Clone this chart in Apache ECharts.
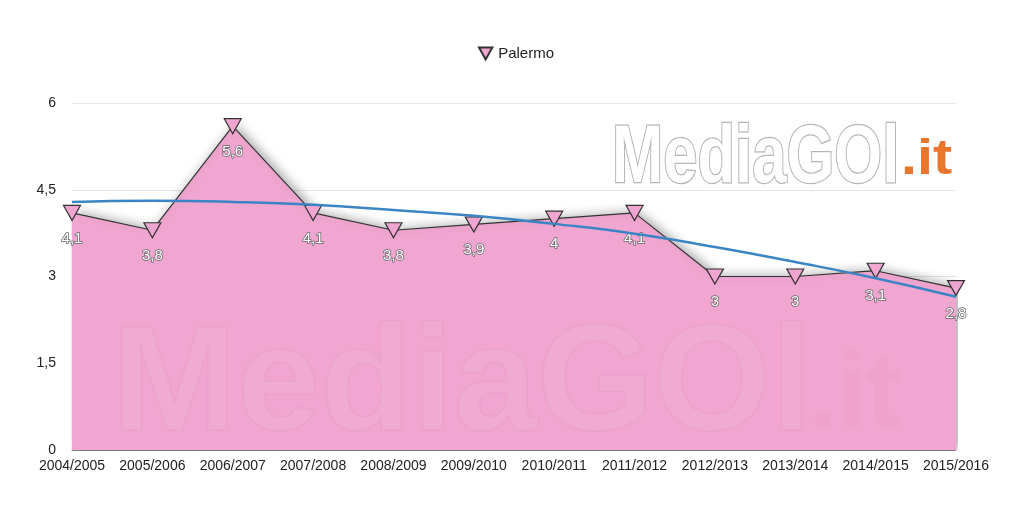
<!DOCTYPE html>
<html><head><meta charset="utf-8">
<script src="https://cdn.jsdelivr.net/npm/echarts@6/dist/echarts.min.js"></script>
<style>html,body{margin:0;padding:0;background:#fff}#c{width:1024px;height:505px}</style>
</head><body><div id="c"></div>
<script>
var categories = ['2004/2005','2005/2006','2006/2007','2007/2008','2008/2009','2009/2010','2010/2011','2011/2012','2012/2013','2013/2014','2014/2015','2015/2016'];
var palermo = [4.1,3.8,5.6,4.1,3.8,3.9,4.0,4.1,3.0,3.0,3.1,2.8];
var trend = [4.29,4.31,4.29,4.24,4.15,4.05,3.91,3.74,3.51,3.25,2.97,2.65];
var yTicks = [0,1.5,3,4.5,6];

var fmt = function(v){ return String(v).replace('.', ','); };
var chart = echarts.init(document.getElementById('c'));
chart.setOption({
  animation:false,
  textStyle:{fontFamily:'Liberation Sans, Arial, sans-serif'},
  legend:{top:41,left:473,itemWidth:15,itemHeight:12,itemGap:6,
    textStyle:{fontSize:15,color:'#222'},
    data:[{name:'Palermo',icon:'path://M0,0 L10,0 L5,9 Z'}]},
  grid:{left:72,right:68,top:103,bottom:55},
  xAxis:{type:'category',data:categories,boundaryGap:false,
    axisLine:{lineStyle:{color:'#888',width:1}},axisTick:{show:false},
    axisLabel:{color:'#222',fontSize:14,margin:9,interval:0}},
  yAxis:{type:'value',min:0,max:6,interval:1.5,
    axisLine:{show:false},axisTick:{show:false},
    splitLine:{lineStyle:{color:'#e6e6e6'}},
    axisLabel:{color:'#222',fontSize:14,margin:16,formatter:function(v){return fmt(v);}}},
  graphic:[
    {type:'text',x:612,y:119,scaleX:0.76,z:5,style:{text:'MediaGOl',font:'bold 81px Liberation Sans, Arial',fill:'#fff',stroke:'#b5b5b5',lineWidth:2.5,shadowBlur:5,shadowColor:'rgba(0,0,0,0.3)',shadowOffsetY:2}},
    {type:'text',x:901,y:135,scaleX:1.15,z:5,style:{text:'.it',font:'bold 50px Liberation Sans, Arial',fill:'#e8762c'}},
    {type:'text',x:112,y:314,z:4,silent:true,style:{text:'MediaGOl',font:'bold 150px Liberation Sans, Arial',fill:'rgba(255,255,255,0.06)',stroke:'rgba(190,100,155,0.07)',lineWidth:2}},
    {type:'text',x:808,y:346,z:4,silent:true,style:{text:'.it',font:'bold 105px Liberation Sans, Arial',fill:'rgba(235,120,150,0.06)'}}
  ],
  series:[
    {name:'Palermo',type:'line',data:palermo,z:2,
     symbol:'path://M0,0 L10,0 L5,9 Z',symbolSize:[17,15],symbolKeepAspect:false,
     itemStyle:{color:'#f0a6d0',borderColor:'#333',borderWidth:1.2},
     lineStyle:{color:'#333',width:1.2,shadowBlur:10,shadowColor:'rgba(0,0,0,0.25)',shadowOffsetY:-2},
     areaStyle:{color:'#f0a6d0',opacity:1,shadowBlur:12,shadowColor:'rgba(0,0,0,0.35)',shadowOffsetX:4},
     label:{show:true,position:'bottom',distance:10,color:'#fff',fontSize:15,
       textBorderColor:'#666',textBorderWidth:1.5,
       formatter:function(p){return fmt(p.value);}}},
    {name:'trend',type:'line',data:trend,smooth:true,symbol:'none',z:3,
     lineStyle:{color:'#3b85c4',width:2.5},tooltip:{show:false}}
  ]
});
</script></body></html>
